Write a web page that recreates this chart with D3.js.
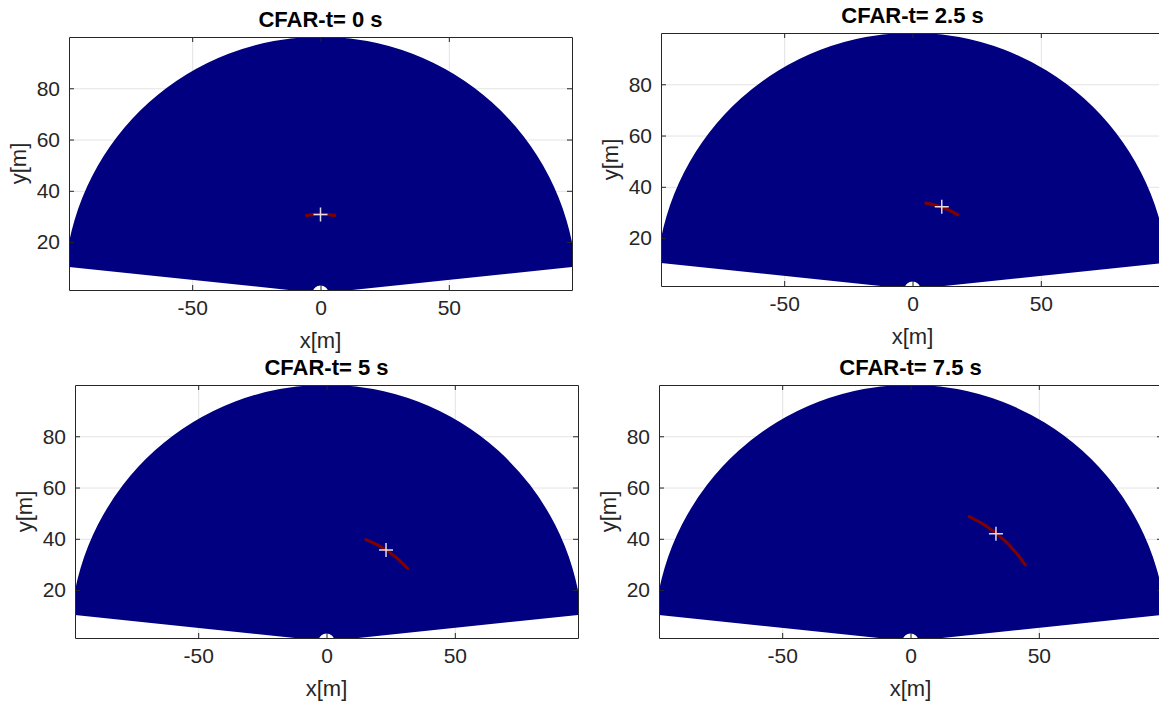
<!DOCTYPE html>
<html>
<head>
<meta charset="utf-8">
<script src="https://cdn.jsdelivr.net/npm/d3@7"></script>
<style>
  body { margin: 0; background: #fff; }
  text { font-family: "Liberation Sans", Arial, sans-serif; }
</style>
</head>
<body>
<div id="chart"></div>
<script>
// data
let times = [0, 2.5, 5, 7.5]
let plusX = [0, 11.4, 23.2, 33.3]
let plusY = [30.8, 32.2, 35.6, 42]
let arcRange = [30.8, 34, 42.5, 53.7]
let arcFrom = [78.7, 57.6, 41.2, 33]      // degrees, from +x axis
let arcTo = [101.3, 82.2, 69.6, 65.4]
let fanAngles = [6, 174]                   // sector edges, degrees
let rangeMin = 3.1
let rangeMax = 100
let xLim = [-98, 98]
let yLim = [1.3, 100]
let xTicks = [-50, 0, 50]
let yTicks = [20, 40, 60, 80]

// layout of the 2x2 subplots
let panelLeft = [69, 661, 75, 659]
let panelTop = [37, 33, 385, 385]
let panelW = 503
let panelH = 253

let svg = d3.select('#chart')
    .append('svg')
    .attr('width', 1159)
    .attr('height', 709)

let deg = Math.PI / 180
let plain = d => String(d)

times.forEach(function(t, i) {
    let g = svg.append('g')
        .attr('transform', `translate(${panelLeft[i]},${panelTop[i]})`)

    let xScale = d3.scaleLinear().domain(xLim).range([0, panelW])
    let yScale = d3.scaleLinear().domain(yLim).range([panelH, 0])
    let k = xScale(1) - xScale(0)

    g.append('clipPath').attr('id', 'clip' + i)
        .append('rect').attr('width', panelW).attr('height', panelH)

    // grid
    g.append('g')
        .attr('transform', `translate(0,${panelH})`)
        .call(d3.axisBottom(xScale).tickValues(xTicks).tickSize(-panelH).tickFormat(''))
        .call(a => a.select('.domain').remove())
        .selectAll('line').attr('stroke', '#e3e3e3')
    g.append('g')
        .call(d3.axisLeft(yScale).tickValues(yTicks).tickSize(-panelW).tickFormat(''))
        .call(a => a.select('.domain').remove())
        .selectAll('line').attr('stroke', '#e3e3e3')

    let plot = g.append('g').attr('clip-path', `url(#clip${i})`)
    let ox = xScale(0), oy = yScale(0)

    // radar coverage
    let fan = d3.arc()
        .innerRadius(rangeMin * k)
        .outerRadius(rangeMax * k)
        .startAngle(Math.PI / 2 - fanAngles[1] * deg)
        .endAngle(Math.PI / 2 - fanAngles[0] * deg)
    plot.append('path')
        .attr('transform', `translate(${ox},${oy})`)
        .attr('d', fan())
        .attr('fill', '#000080')

    // detection cell
    let det = d3.arc()
        .innerRadius((arcRange[i] - 0.6) * k)
        .outerRadius((arcRange[i] + 0.6) * k)
        .startAngle(Math.PI / 2 - arcTo[i] * deg)
        .endAngle(Math.PI / 2 - arcFrom[i] * deg)
        .cornerRadius(0.6 * k)
    plot.append('path')
        .attr('transform', `translate(${ox},${oy})`)
        .attr('d', det())
        .attr('fill', '#800000')

    // estimated position
    let px = xScale(plusX[i]), py = yScale(plusY[i])
    plot.append('path')
        .attr('d', `M${px - 7},${py}H${px + 7}M${px},${py - 7}V${py + 7}`)
        .attr('stroke', '#ffffff')
        .attr('stroke-opacity', 0.85)
        .attr('stroke-width', 1.5)

    // axes with inward ticks on all sides
    let axisColor = '#262626'
    let bottom = g.append('g')
        .attr('transform', `translate(0,${panelH})`)
        .call(d3.axisBottom(xScale).tickValues(xTicks).tickSizeInner(-5).tickSizeOuter(0).tickPadding(10).tickFormat(plain))
    let left = g.append('g')
        .call(d3.axisLeft(yScale).tickValues(yTicks).tickSizeInner(-5).tickSizeOuter(0).tickPadding(9).tickFormat(plain))
    let top = g.append('g')
        .call(d3.axisTop(xScale).tickValues(xTicks).tickSizeInner(-5).tickSizeOuter(0).tickFormat(''))
    let right = g.append('g')
        .attr('transform', `translate(${panelW},0)`)
        .call(d3.axisRight(yScale).tickValues(yTicks).tickSizeInner(-5).tickSizeOuter(0).tickFormat(''))
    ;[bottom, left, top, right].forEach(a => {
        a.select('.domain').attr('stroke', axisColor)
        a.selectAll('line').attr('stroke', axisColor)
        a.selectAll('text')
            .attr('fill', axisColor)
            .style('font-size', '21px')
    })

    // labels
    g.append('text')
        .attr('x', panelW / 2)
        .attr('y', -10)
        .attr('text-anchor', 'middle')
        .style('font-size', '22px')
        .style('font-weight', 'bold')
        .attr('fill', '#000')
        .text('CFAR-t= ' + t + ' s')
    g.append('text')
        .attr('x', panelW / 2)
        .attr('y', panelH + 58)
        .attr('text-anchor', 'middle')
        .style('font-size', '22px')
        .attr('fill', axisColor)
        .text('x[m]')
    g.append('text')
        .attr('transform', `translate(-43,${panelH / 2}) rotate(-90)`)
        .attr('text-anchor', 'middle')
        .style('font-size', '22px')
        .attr('fill', axisColor)
        .text('y[m]')
})
</script>
</body>
</html>
